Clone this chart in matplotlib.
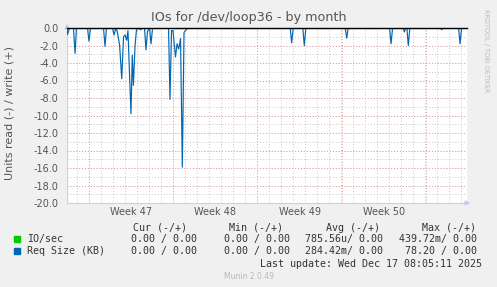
import matplotlib
matplotlib.use('Agg')
import matplotlib.pyplot as plt
import numpy as np

# read (-) side of "Req Size (KB)", days since left edge of plot
days = [0.00, 0.04, 0.21, 0.54, 0.67, 0.79, 1.71, 1.83, 1.96, 3.04, 3.17, 3.29,
        3.79, 3.92, 4.04, 4.17, 4.38, 4.56, 4.71, 4.83, 4.97, 5.08, 5.33, 5.44,
        5.53, 5.67, 5.79, 5.92, 6.14, 6.25, 6.46, 6.58, 6.71, 6.88, 7.00, 7.13,
        8.46, 8.58, 8.71, 8.83, 9.04, 9.17, 9.31, 9.46, 9.61, 9.75, 9.92, 10.08,
        18.60, 18.72, 18.85, 19.65, 19.77, 19.90, 23.18, 23.31, 23.43,
        26.88, 27.00, 27.13, 28.00, 28.11, 28.21, 28.32, 28.44, 28.57,
        31.13, 31.22, 31.33, 32.63, 32.75, 32.88, 33.33]
req_size = [0.0, -0.75, 0.0, 0.0, -2.9, 0.0, 0.0, -1.5, 0.0, 0.0, -2.1, 0.0,
            0.0, -0.8, -0.1, -0.3, -1.9, -5.8, -1.0, -0.8, -1.4, -0.3, -9.8, -3.1,
            -6.55, -2.0, -0.2, 0.0, -0.2, 0.0, 0.0, -2.5, -0.4, 0.0, -1.8, 0.0,
            0.0, -8.15, -0.3, -0.3, -3.3, -1.8, -2.4, -1.2, -15.9, -0.5, -0.2, 0.0,
            0.0, -1.7, 0.0, 0.0, -2.0, 0.0, 0.0, -1.15, 0.0,
            0.0, -1.8, 0.0, 0.0, -0.45, 0.0, 0.0, -2.0, 0.0,
            0.0, -0.2, 0.0, 0.0, -1.8, 0.0, 0.0]
io_days = [0.0, 33.33]
io_sec = [0.0, 0.0]

week_lines = [1.83, 8.83, 15.83, 22.92, 29.92]
week_labels = ['Week 47', 'Week 48', 'Week 49', 'Week 50']
y_ticks = [0, -2, -4, -6, -8, -10, -12, -14, -16, -18, -20]

legend_head = ['Cur (-/+)', 'Min (-/+)', 'Avg (-/+)', 'Max (-/+)']
legend_rows = [
    ('IO/sec', '#00cc00', ['0.00 / 0.00', '0.00 / 0.00', '785.56u/ 0.00', '439.72m/ 0.00']),
    ('Req Size (KB)', '#0066b3', ['0.00 / 0.00', '0.00 / 0.00', '284.42m/ 0.00', '78.20 / 0.00']),
]

W, H = 497, 287
fig = plt.figure(figsize=(W / 100, H / 100), dpi=100, facecolor='#f0f0f0')
ax = fig.add_axes([67 / W, (H - 203) / H, 400 / W, 175 / H])
ax.set_facecolor('white')
ax.set_xlim(0, 33.33)
ax.set_ylim(-20, 0)

# grid: minor each day / 1.0, major each week / 2.0
for d in np.arange(0.83, 33.33, 1.0):
    ax.axvline(d, color='#c8c8c8', lw=0.7, ls=(0, (1, 2)), zorder=1)
for v in range(-19, 0):
    ax.axhline(v, color='#c8c8c8', lw=0.7, ls=(0, (1, 2)), zorder=1)
for d in week_lines:
    ax.axvline(d, color='#e0a0a0', lw=0.7, ls=(0, (1, 2)), zorder=1)
for v in y_ticks[1:]:
    ax.axhline(v, color='#e0a0a0', lw=0.7, ls=(0, (1, 2)), zorder=1)

ax.plot(io_days, io_sec, color='#00cc00', lw=0.9, zorder=3)
ax.plot(days, req_size, color='#0066b3', lw=0.85, zorder=4)
ax.axhline(0, color='black', lw=1, zorder=5, clip_on=False)

for s in ['top', 'right']:
    ax.spines[s].set_visible(False)
for s in ['left', 'bottom']:
    ax.spines[s].set_color('#c8d0f0')
    ax.spines[s].set_linewidth(0.8)

ax.set_yticks(y_ticks)
ax.set_yticklabels(['%.1f' % v for v in y_ticks])
ax.set_xticks([(week_lines[i] + week_lines[i + 1]) / 2 for i in range(4)])
ax.set_xticklabels(week_labels)
ax.tick_params(axis='both', length=0, labelsize=7, labelcolor='#555555')
ax.tick_params(axis='y', pad=6)
ax.tick_params(axis='x', pad=3)

# axis arrows
ax.annotate('', xy=(0, 1.04), xytext=(0, 0.98), xycoords='axes fraction',
            arrowprops=dict(arrowstyle='-|>', color='#c0c8f0', lw=0.8,
                            mutation_scale=7), annotation_clip=False)
ax.annotate('', xy=(1.015, 0), xytext=(0.99, 0), xycoords='axes fraction',
            arrowprops=dict(arrowstyle='-|>', color='#c0c8f0', lw=0.8,
                            mutation_scale=7), annotation_clip=False)

fig.text(248.5 / W, 1 - 18 / H, 'IOs for /dev/loop36 - by month', ha='center',
         va='center', fontsize=9.2, color='#555555')
fig.text(10 / W, 1 - 113.5 / H, 'Units read (-) / write (+)', ha='center',
         va='center', rotation=90, fontsize=8, color='#555555')
fig.text(486 / W, 1 - 51 / H, 'RRDTOOL / TOBI OETIKER', ha='center', va='center',
         rotation=270, fontsize=4.7, color='#bbbbbb')

mono = 'DejaVu Sans Mono'
col_right = [197, 290, 383, 477]
head_right = [187, 283, 380, 476]
for r, t in zip(head_right, legend_head):
    fig.text(r / W, 1 - 228 / H, t, ha='right', va='center', family=mono,
             fontsize=7.2, color='#333333')
for i, (name, c, vals) in enumerate(legend_rows):
    y = 239 + 12 * i
    fig.patches.append(plt.Rectangle((14 / W, 1 - (y + 3) / H), 6 / W, 6 / H,
                                     transform=fig.transFigure, color=c))
    fig.text(27 / W, 1 - y / H, name, ha='left', va='center', family=mono,
             fontsize=7.2, color='#333333')
    for r, t in zip(col_right, vals):
        fig.text(r / W, 1 - y / H, t, ha='right', va='center', family=mono,
                 fontsize=7.2, color='#333333')
fig.text(482 / W, 1 - 264 / H, 'Last update: Wed Dec 17 08:05:11 2025', ha='right',
         va='center', family=mono, fontsize=7.2, color='#333333')
fig.text(248.5 / W, 1 - 276.5 / H, 'Munin 2.0.49', ha='center', va='center',
         fontsize=5.5, color='#b8b8b8')

fig.savefig('out.png', dpi=100, facecolor=fig.get_facecolor())
